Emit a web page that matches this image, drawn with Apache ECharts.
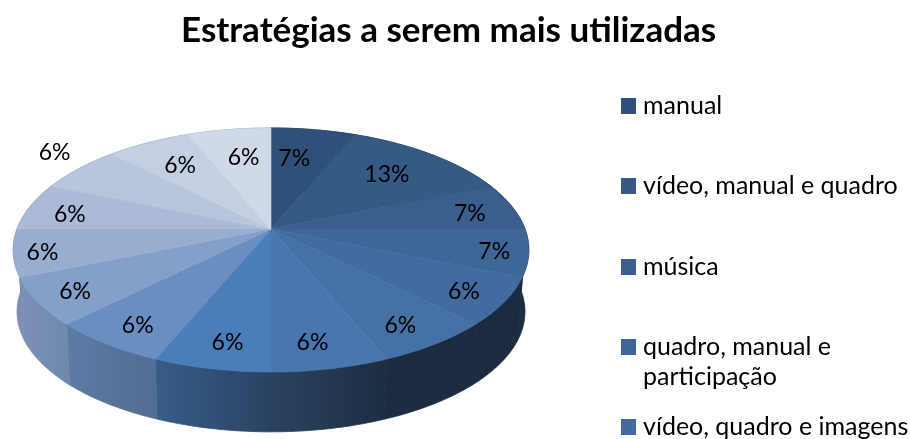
<!DOCTYPE html>
<html>
<head>
<meta charset="utf-8">
<style>
  html, body { margin: 0; padding: 0; background: #fff; }
  #main { width: 910px; height: 439px; }
</style>
</head>
<body>
<div id="main"></div>
<script src="https://cdn.jsdelivr.net/npm/echarts@6/dist/echarts.min.js"></script>
<script>
const chartTitle = "Estratégias a serem mais utilizadas";
// only the first five names are visible, the legend runs off the picture
const categories = ["manual", "vídeo, manual e quadro", "música", "quadro, manual e\nparticipação", "vídeo, quadro e imagens"];
const sliceValues = [6.25, 12.5, 6.25, 6.25, 6.25, 6.25, 6.25, 6.25, 6.25, 6.25, 6.25, 6.25, 6.25, 6.25, 6.25];
const sliceLabels = ["7%", "13%", "7%", "7%", "6%", "6%", "6%", "6%", "6%", "6%", "6%", "6%", "6%", "6%", "6%"];

const topColors = ["#2e5179", "#345a85", "#3a5f8e", "#3e6696", "#426c9f", "#4571a7", "#4877af", "#4a7ebb", "#6a8ec2", "#84a0c9", "#98aed1", "#aabad7", "#b8c5dd", "#c4cfe2", "#d0d9e7"];
const wallLeft = ["#1b2c40", "#1b2c40", "#1b2c40", "#1b2c40", "#1b2c40", "#1b2c40", "#2b4360", "#375d8a", "#5c7ca7", "#7b91b5", "#7c8fb3", "#7c8fb3", "#7c8fb3", "#7c8fb3", "#7c8fb3"];
const wallRight = ["#1b2c40", "#1b2c40", "#1b2c40", "#1b2c40", "#1b2c40", "#1b2c40", "#1c2d42", "#2a4261", "#536c91", "#6f88ad", "#7c8fb3", "#7c8fb3", "#7c8fb3", "#7c8fb3", "#7c8fb3"];
const labelRadius = [0.68, 0.7, 0.82, 0.87, 0.84, 0.81, 0.84, 0.84, 0.81, 0.84, 0.89, 0.83, 1.2, 0.71, 0.66];
const labelNudge = [[-7, 0], [0, 0], [0, 3], [0, 2], [0, 3], [0, 6], [-7, 0], [5, 0], [-4, 6], [-3, 3], [0, 2], [0, 4], [11, -6], [0, 0], [2, -2]];
const legendTops = [91, 171, 252, 302, 412];

// flat perspective projection of the pie disc, hub sits above the ellipse centre
const cx = 271, hubY = 229, R = 254, squash = 118.4, persp = 0.172;
const project = (theta, f, scale, shiftY) => {
  const s = Math.sin(theta), c = Math.cos(theta);
  const d = 1 + persp * f * c;
  return [cx + scale * R * f * s / d, hubY + shiftY - scale * squash * f * c / d];
};
const total = sliceValues.reduce((a, b) => a + b, 0);
const angleAt = (idx) => {
  let sum = 0;
  for (let i = 0; i < idx; i++) sum += sliceValues[i];
  return (sum / total) * Math.PI * 2;
};
const arcPoints = (a, b, scale, shiftY) => {
  const steps = Math.max(2, Math.ceil((b - a) / 0.02));
  const pts = [];
  for (let i = 0; i <= steps; i++) pts.push(project(a + ((b - a) * i) / steps, 1, scale, shiftY));
  return pts;
};

const renderWall = (idx) => (params, api) => {
  const a = angleAt(idx);
  const b = a + (api.value(0) / total) * Math.PI * 2;
  const top = arcPoints(a, b, 1, 0);
  const bottom = arcPoints(a, b, 0.985, 62).reverse();
  const grad = new echarts.graphic.LinearGradient(0, 0, 1, 0, [
    { offset: 0, color: wallLeft[idx] },
    { offset: 1, color: wallRight[idx] }
  ]);
  return {
    type: "polygon",
    shape: { points: top.concat(bottom) },
    style: { fill: grad, stroke: grad, lineWidth: 0.8 }
  };
};

const renderSlice = (idx) => (params, api) => {
  const a = angleAt(idx);
  const b = a + (api.value(0) / total) * Math.PI * 2;
  const pts = [[cx, hubY]].concat(arcPoints(a, b, 1, 0));
  return {
    type: "polygon",
    shape: { points: pts },
    style: { fill: topColors[idx], stroke: topColors[idx], lineWidth: 0.6 }
  };
};

const renderLabel = (idx) => (params, api) => {
  const a = angleAt(idx);
  const mid = a + (api.value(0) / total) * Math.PI;
  const [x, y] = project(mid, labelRadius[idx], 1, 0);
  return {
    type: "text",
    x: x + labelNudge[idx][0],
    y: y + labelNudge[idx][1],
    style: {
      text: sliceLabels[idx],
      fill: "#000",
      font: "23px Lato",
      align: "center",
      verticalAlign: "middle"
    }
  };
};

const series = [];
sliceValues.forEach((v, idx) => {
  series.push({ type: "custom", coordinateSystem: "none", silent: true, z: 1, renderItem: renderWall(idx), data: [v] });
});
sliceValues.forEach((v, idx) => {
  series.push({
    type: "custom",
    name: categories[idx],
    coordinateSystem: "none",
    silent: true,
    z: 2,
    itemStyle: { color: topColors[idx] },
    renderItem: renderSlice(idx),
    data: [v]
  });
});
sliceValues.forEach((v, idx) => {
  series.push({ type: "custom", coordinateSystem: "none", silent: true, z: 3, renderItem: renderLabel(idx), data: [v] });
});

const legends = categories.map((name, idx) => ({
  data: [name],
  orient: "vertical",
  left: 621,
  top: legendTops[idx],
  padding: 0,
  selectedMode: false,
  icon: "rect",
  itemWidth: 15,
  itemHeight: 16,
  itemGap: 0,
  // empty first line keeps the icon level with the first real line when the name wraps
  formatter: (n) => (n.includes("\n") ? "\n" + n : n),
  textStyle: {
    color: "#000",
    fontFamily: "Lato",
    fontSize: 25,
    lineHeight: 30,
    padding: [0, 0, 0, 2]
  }
}));

const option = {
  animation: false,
  backgroundColor: "#fff",
  title: {
    text: chartTitle,
    left: 181,
    top: 13,
    padding: 0,
    textStyle: { color: "#000", fontFamily: "Lato", fontWeight: "bold", fontSize: 35 }
  },
  legend: legends,
  series
};

const myChart = echarts.init(document.getElementById("main"));
myChart.setOption(option);
</script>
</body>
</html>
